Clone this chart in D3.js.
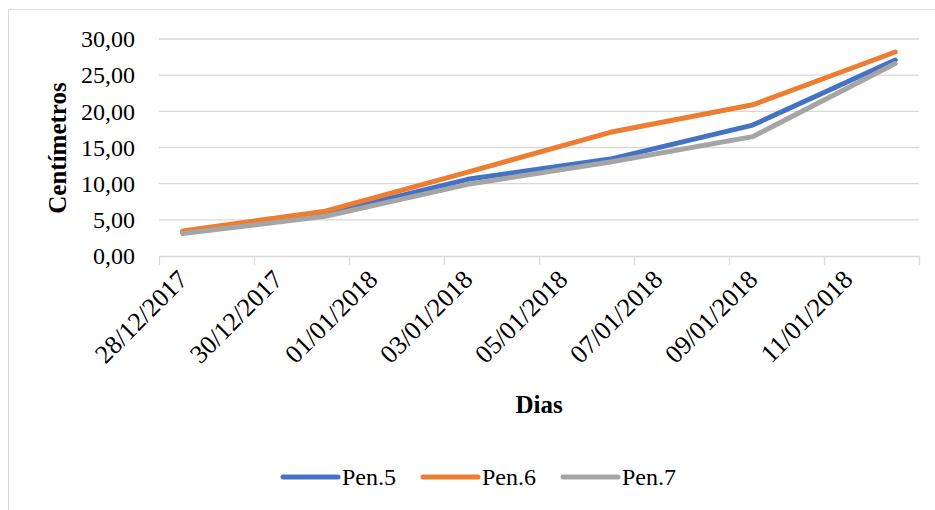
<!DOCTYPE html>
<html>
<head>
<meta charset="utf-8">
<script src="https://cdn.jsdelivr.net/npm/d3@7"></script>
<style>
    body { margin: 0; background: #fff; }
</style>
</head>
<body>
<script>
/////////// DATA //////////
const dias = ["28/12/2017", "31/12/2017", "03/01/2018", "06/01/2018", "09/01/2018", "12/01/2018"];
const seriesNames = ["Pen.5", "Pen.6", "Pen.7"];
const pen5 = [3.30, 5.80, 10.60, 13.40, 18.10, 27.10];
const pen6 = [3.45, 6.20, 11.60, 17.10, 20.90, 28.20];
const pen7 = [3.10, 5.50, 9.90, 13.00, 16.50, 26.60];
const yTicks = [0, 5, 10, 15, 20, 25, 30];
const axisStart = "28/12/2017"; // first day slot
const axisEnd = "13/01/2018";   // end of last day slot

/////////// CONFIGURATION //////////
const width = 935;
const height = 510;
const margin = { top: 39, right: 16, bottom: 254, left: 159 }; // plot area 159..919 x 39..256
const colors = ["#4472C4", "#ED7D31", "#A5A5A5"];
const gridColor = "#d9d9d9";
const serif = "'Liberation Serif', 'Times New Roman', Times, 'DejaVu Serif', serif";

const parseDay = d3.timeParse("%d/%m/%Y");
const fmtDay = d3.timeFormat("%d/%m/%Y");
const fmtNum = v => d3.format(".2f")(v).replace(".", ",");

function setChart() {
    const svg = d3.select("body").append("svg")
        .attr("width", width)
        .attr("height", height)
        .style("font-family", serif);

    // chart frame (runs off the bottom/right like the original)
    svg.append("rect")
        .attr("x", 8.5).attr("y", 9.5)
        .attr("width", 1000).attr("height", 1000)
        .attr("fill", "none")
        .attr("stroke", gridColor);

    const x = d3.scaleTime()
        .domain([parseDay(axisStart), parseDay(axisEnd)])
        .range([margin.left, width - margin.right]);
    const y = d3.scaleLinear()
        .domain([0, 30])
        .range([height - margin.bottom, margin.top]);

    drawGrid(svg, x, y);
    drawAxes(svg, x, y);
    drawLines(svg, x, y);
    drawLegend(svg);
}

function drawGrid(svg, x, y) {
    svg.append("g")
        .selectAll("line")
        .data(yTicks.filter(d => d > 0))
        .join("line")
        .attr("x1", x.range()[0]).attr("x2", x.range()[1])
        .attr("y1", d => y(d)).attr("y2", d => y(d))
        .attr("stroke", gridColor)
        .attr("stroke-width", 1.3);
}

function drawAxes(svg, x, y) {
    // y axis: labels only
    const yAxis = svg.append("g")
        .attr("transform", `translate(${x.range()[0]},0)`)
        .call(d3.axisLeft(y).tickValues(yTicks).tickFormat(fmtNum).tickSize(0).tickPadding(24));
    yAxis.attr("font-family", null).attr("font-size", null);
    yAxis.select(".domain").remove();
    yAxis.selectAll("text")
        .style("font-family", serif)
        .style("font-size", "24px");

    // x axis: tick marks every 2 days, labels centred in the day slot
    const start = x.domain()[0];
    const tickDays = d3.range(0, 17, 2).map(i => d3.timeDay.offset(start, i));
    const xAxis = svg.append("g")
        .attr("transform", `translate(0,${y(0)})`)
        .call(d3.axisBottom(x).tickValues(tickDays).tickFormat(fmtDay).tickSizeInner(9).tickSizeOuter(0));
    xAxis.attr("font-family", null).attr("font-size", null);
    xAxis.select(".domain").attr("stroke", gridColor).attr("stroke-width", 1.3);
    xAxis.selectAll(".tick line").attr("stroke", gridColor).attr("stroke-width", 1.3);
    const halfDay = (x(d3.timeDay.offset(start, 1)) - x.range()[0]) / 2;
    xAxis.selectAll(".tick text")
        .filter(d => +d === +x.domain()[1])
        .remove();
    xAxis.selectAll(".tick text")
        .style("font-family", serif)
        .style("font-size", "26px")
        .attr("text-anchor", "end")
        .attr("y", 0).attr("dy", 0)
        .attr("transform", `translate(${halfDay + 6},25) rotate(-45)`);

    // axis titles
    svg.append("text")
        .attr("transform", `translate(66,148) rotate(-90)`)
        .attr("text-anchor", "middle")
        .style("font-family", serif)
        .style("font-size", "25px")
        .style("font-weight", "bold")
        .text("Centímetros");

    svg.append("text")
        .attr("x", (x.range()[0] + x.range()[1]) / 2)
        .attr("y", 413)
        .attr("text-anchor", "middle")
        .style("font-family", serif)
        .style("font-size", "25px")
        .style("font-weight", "bold")
        .text("Dias");
}

function drawLines(svg, x, y) {
    const values = [pen5, pen6, pen7];
    const line = d3.line()
        .x(d => x(d3.timeHour.offset(parseDay(d.day), 12))) // centre of the day slot
        .y(d => y(d.v));

    values.forEach((vals, i) => {
        const pts = dias.map((day, j) => ({ day: day, v: vals[j] }));
        svg.append("path")
            .datum(pts)
            .attr("d", line)
            .attr("fill", "none")
            .attr("stroke", colors[i])
            .attr("stroke-width", 5)
            .attr("stroke-linecap", "round")
            .attr("stroke-linejoin", "round");
    });
}

function drawLegend(svg) {
    const legend = svg.append("g").attr("transform", "translate(283,477)");
    const item = legend.selectAll("g")
        .data(seriesNames)
        .join("g")
        .attr("transform", (d, i) => `translate(${i * 140},0)`);
    item.append("line")
        .attr("x1", 0).attr("x2", 55)
        .attr("stroke", (d, i) => colors[i])
        .attr("stroke-width", 5)
        .attr("stroke-linecap", "round");
    item.append("text")
        .attr("x", 59).attr("y", 8)
        .style("font-family", serif)
        .style("font-size", "24px")
        .text(d => d);
}

setChart();
</script>
</body>
</html>
